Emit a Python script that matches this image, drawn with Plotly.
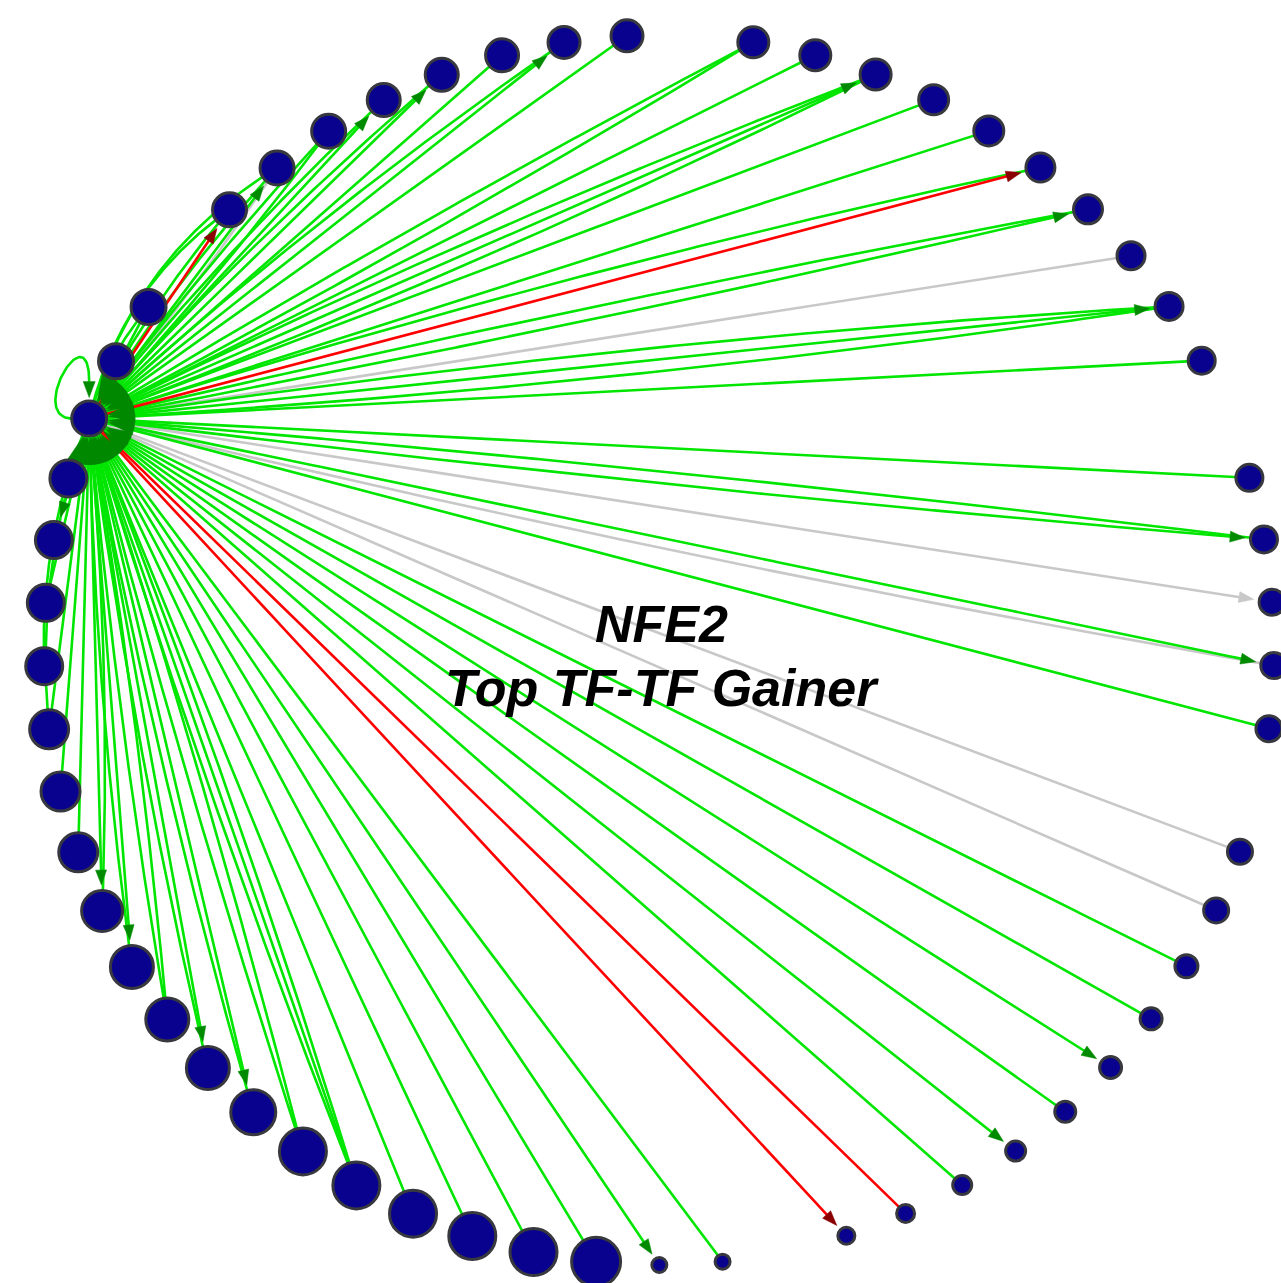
import numpy as np
import plotly.graph_objects as go

W, H = 1281, 1283
CX, CY, R = 659.0, 650.0, 615.0
N_SLOTS = 61
THETA0 = 157.9

title_lines = ["NFE2", "Top TF-TF Gainer"]

# node 0 is the hub (NFE2); slot = position index on the circular layout
node_slot = [0, 1, 2, 4, 5, 6, 7, 8, 9, 10, 11,
             13, 14, 15, 16, 17, 18, 19, 20, 21, 22,
             24, 25, 26, 27, 28,
             30, 31, 32, 33, 34, 35, 36, 37, 38, 39,
             41, 42, 43, 44, 45, 46, 47, 48, 49, 50,
             51, 52, 53, 54, 55, 56, 57, 58, 59, 60]
node_radius = [19,
               19, 19, 18.5, 18.5, 18.5, 18, 18, 18, 17.5, 17.5,
               17, 17, 17, 16.5, 16.5, 16, 16, 15.5, 15.5, 15,
               15, 15, 14.5, 14.5, 14.5,
               14, 14, 13, 12.5, 12.5, 12, 11.5, 11, 10.5, 10,
               9, 9, 26, 25, 25, 25, 25, 25, 24, 23,
               23, 23, 22, 21, 21, 21, 20, 20, 20, 20]

# edges from hub: target, colour (g=activation, r=repression, y=unknown), arrow at target, bend (px)
edge_target = [1, 2, 2, 3, 3, 3, 4, 4, 4, 4, 5, 5, 6, 6, 7, 7, 8, 9, 9, 10,
               11, 11, 12, 13, 13, 13, 14, 15, 16, 16, 17, 17, 18, 19, 19, 19, 20,
               21, 22, 22, 23, 24, 24, 25, 26, 27, 28, 29, 30, 31, 32, 33, 34, 35,
               36, 37, 38, 39, 40, 41, 42, 42, 42, 43, 43, 44, 44, 45, 45, 46, 46,
               47, 47, 48, 48, 49, 50, 51, 51, 52, 53, 54, 55]
edge_color = ["g", "g", "g", "r", "g", "g", "g", "y", "g", "g", "g", "g", "g", "g", "g", "g", "g", "g", "g", "g",
              "g", "g", "g", "g", "g", "g", "g", "g", "r", "g", "g", "g", "y", "g", "g", "g", "g",
              "g", "g", "g", "y", "g", "y", "g", "y", "y", "g", "g", "g", "g", "g", "g", "r", "r",
              "g", "g", "g", "g", "g", "g", "g", "g", "g", "g", "g", "g", "g", "g", "g", "g", "g",
              "g", "g", "g", "g", "g", "g", "g", "g", "g", "g", "g", "g"]
edge_arrow = [0, 0, 0, 1, 0, 0, 1, 0, 0, 0, 0, 0, 1, 0, 1, 0, 0, 1, 0, 0,
              0, 0, 0, 1, 0, 0, 0, 0, 1, 0, 1, 0, 0, 1, 0, 0, 0,
              0, 1, 0, 1, 1, 0, 0, 0, 0, 0, 0, 1, 0, 1, 0, 0, 1,
              0, 1, 0, 0, 0, 0, 0, 0, 0, 0, 0, 1, 0, 1, 0, 0, 0,
              1, 0, 1, 0, 0, 0, 0, 0, 0, 0, 1, 0]
edge_bend = [0, 0, 7, 0, 24, 7, 0, -4, 32, 8, -5, 5, 0, 8, 0, 8, 0, 0, 10, 0,
             -6, 6, 0, 0, -10, 10, 0, 0, 0, 12, -6, 6, 0, 0, -12, 12, 0,
             0, -6, 6, 0, 0, -10, 0, 0, 0, 0, 0, 0, 0, 0, 0, 0, 0,
             0, 0, 0, 0, 0, 0, -8, 0, 8, -6, 6, 0, 8, 0, 8, -6, 6,
             0, 8, 0, -8, 0, 0, 0, 18, 14, 0, 0, 0]

# nodes with an edge back to the hub (arrowheads land on the hub)
hub_in_src = [1, 2, 3, 4, 5, 6, 7, 9, 11, 13, 17, 19, 22, 24, 28, 30, 33, 36,
              38, 40, 42, 43, 44, 45, 46, 47, 48, 50, 51, 52, 53, 54, 55]

LINE_COL = {"g": "#00e600", "r": "#ff0000", "y": "#c8c8c8"}
HEAD_COL = {"g": "#008a00", "r": "#8b0000", "y": "#c8c8c8"}
ALEN, AHW, GAP = 15.0, 5.5, 4.0
HUB_ALEN, HUB_AHW = 26.0, 7.0


def pos(i):
    th = np.radians(THETA0 - node_slot[i] * 360.0 / N_SLOTS)
    return np.array([CX + R * np.cos(th), CY - R * np.sin(th)])


P = [pos(i) for i in range(len(node_slot))]
hub = P[0]
center = np.array([CX, CY])

lines = {k: ([], []) for k in "yrg"}
heads = {k: ([], []) for k in "yrg"}
hub_heads = ([], [])


def add_tri(store, tip, u, alen, hw):
    n = np.array([-u[1], u[0]])
    base = tip - u * alen
    a = base + n * hw
    b = base - n * hw
    xs, ys = store
    xs += [tip[0], a[0], b[0], tip[0], None]
    ys += [tip[1], a[1], b[1], tip[1], None]


for t_idx, c, arr, bend in zip(edge_target, edge_color, edge_arrow, edge_bend):
    p0 = hub
    p2 = P[t_idx]
    r_t = node_radius[t_idx]
    d = p2 - p0
    L = np.linalg.norm(d)
    perp = np.array([-d[1], d[0]]) / L
    mid = (p0 + p2) / 2
    if np.dot(perp, mid - center) < 0:
        perp = -perp
    p1 = mid + perp * 2 * bend
    t = np.linspace(0, 1, 700)[:, None]
    pts = (1 - t) ** 2 * p0 + 2 * (1 - t) * t * p1 + t ** 2 * p2
    if arr:
        cut = r_t + GAP + ALEN * 0.8
        keep = np.linalg.norm(pts - p2, axis=1) > cut
        pts = pts[keep]
    pts = pts[::4] if not arr else pts
    xs, ys = lines[c]
    xs += list(pts[:, 0]) + [None]
    ys += list(pts[:, 1]) + [None]
    if arr:
        u = p2 - p1
        u = u / np.linalg.norm(u)
        tip = p2 - u * (r_t + GAP)
        add_tri(heads[c], tip, u, ALEN, AHW)

for s in hub_in_src:
    u = hub - P[s]
    u = u / np.linalg.norm(u)
    tip = hub - u * (node_radius[0] + 0.5)
    add_tri(hub_heads, tip, u, HUB_ALEN, HUB_AHW)

# self-loop on the hub (cubic Bezier, offsets relative to hub)
LOOP = np.array([[-18, 0], [-62, -3], [0, -108], [0, -37]], dtype=float)
tl = np.linspace(0, 1, 60)[:, None]
c0, c1, c2, c3 = [hub + o for o in LOOP]
loop_pts = ((1 - tl) ** 3) * c0 + 3 * ((1 - tl) ** 2) * tl * c1 + 3 * (1 - tl) * tl ** 2 * c2 + tl ** 3 * c3
lxs, lys = lines["g"]
lxs += list(loop_pts[:, 0]) + [None]
lys += list(loop_pts[:, 1]) + [None]
add_tri(heads["g"], hub + np.array([0.0, -(node_radius[0] + 2)]), np.array([0.0, 1.0]), 16, 6)

fig = go.Figure()
for k in ["y", "g", "r"]:
    fig.add_trace(go.Scatter(x=lines[k][0], y=lines[k][1], mode="lines",
                             line=dict(color=LINE_COL[k], width=2.6),
                             hoverinfo="skip", connectgaps=False))
fig.add_trace(go.Scatter(x=hub_heads[0], y=hub_heads[1], mode="lines", fill="toself",
                         fillcolor="#008800", line=dict(color="#008800", width=0.5),
                         hoverinfo="skip"))
for k in ["y", "g", "r"]:
    if heads[k][0]:
        fig.add_trace(go.Scatter(x=heads[k][0], y=heads[k][1], mode="lines", fill="toself",
                                 fillcolor=HEAD_COL[k], line=dict(color=HEAD_COL[k], width=0.5),
                                 hoverinfo="skip"))

nx = [p[0] for p in P]
ny = [p[1] for p in P]
fig.add_trace(go.Scatter(x=nx, y=ny, mode="markers",
                         marker=dict(size=[2 * r - 3 for r in node_radius], color="#08028e",
                                     opacity=1, line=dict(color="#38383f", width=3)),
                         hoverinfo="skip"))

font = dict(family="Liberation Sans, Arial, Helvetica, sans-serif", size=52, color="black")
fig.add_annotation(x=661, y=624, text="<b><i>" + title_lines[0] + "</i></b>", showarrow=False,
                   xanchor="center", yanchor="middle", font=font)
fig.add_annotation(x=662, y=688, text="<b><i>" + title_lines[1] + "</i></b>", showarrow=False,
                   xanchor="center", yanchor="middle", font=font)

fig.update_layout(width=W, height=H, margin=dict(l=0, r=0, t=0, b=0),
                  plot_bgcolor="white", paper_bgcolor="white", showlegend=False,
                  xaxis=dict(range=[0, W], visible=False, fixedrange=True),
                  yaxis=dict(range=[H, 0], visible=False, fixedrange=True))

fig.write_html("out.html", config={"displayModeBar": False},
               post_script="document.body.style.margin='0';")
